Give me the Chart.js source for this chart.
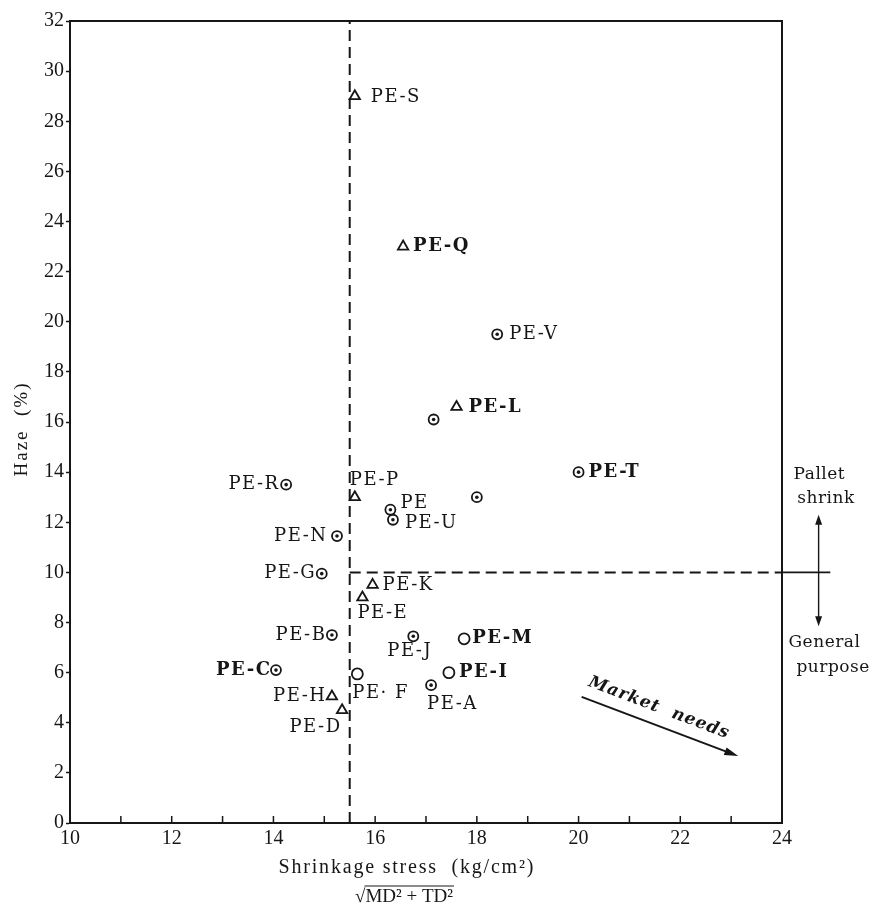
<!DOCTYPE html>
<html>
<head>
<meta charset="utf-8">
<script src="https://cdn.jsdelivr.net/npm/chart.js@4.4.1/dist/chart.umd.min.js"></script>
<style>
    html, body { margin: 0; padding: 0; background: #fff; }
    canvas { display: block; }
</style>
</head>
<body>
<canvas id="grafico-haze" width="876" height="911"></canvas>
<script>
'use strict';

// Muestras con triángulo
const nombresTriangulo = ['PE-S', 'PE-Q', 'PE-L', 'PE-P', 'PE-K', 'PE-E', 'PE-H', 'PE-D'];
const tensionTriangulo = [15.6, 16.55, 17.6, 15.6, 15.95, 15.75, 15.15, 15.35];
const hazeTriangulo = [29.0, 23.0, 16.6, 13.0, 9.5, 9.0, 5.05, 4.5];

// Muestras con círculo y punto central
const nombresCirculoPunto = ['PE-V', '', 'PE-T', '', 'PE-R', 'PE', 'PE-U', 'PE-N', 'PE-G', 'PE-B', 'PE-J', 'PE-C', 'PE-A'];
const tensionCirculoPunto = [18.4, 17.15, 20.0, 18.0, 14.25, 16.3, 16.35, 15.25, 14.95, 15.15, 16.75, 14.05, 17.1];
const hazeCirculoPunto = [19.5, 16.1, 14.0, 13.0, 13.5, 12.5, 12.1, 11.45, 9.95, 7.5, 7.45, 6.1, 5.5];

// Muestras con círculo vacío
const nombresCirculo = ['PE-M', 'PE· F', 'PE-I'];
const tensionCirculo = [17.75, 15.65, 17.45];
const hazeCirculo = [7.35, 5.95, 6.0];

// Límites de las zonas (tensión de contracción y haze)
const limiteTension = 15.5;
const limiteHaze = 10;

// Ejes
const ejeX = { min: 10, max: 24, paso: 1 };
const ejeY = { min: 0, max: 32, paso: 2 };

const TINTA = '#161616';
const SERIF = '"DejaVu Serif", "Liberation Serif", serif';
const SERIF_NUM = '"Liberation Serif", serif';

// Posición de cada etiqueta respecto a su punto: [dx, dy, alineación]
const posEtiquetas = {
    'PE-S': [16, 1, 'left'], 'PE-Q': [10, 0, 'left'], 'PE-L': [12, 0, 'left'],
    'PE-P': [-5, -17, 'left'], 'PE-K': [10, 0, 'left'], 'PE-E': [-5, 16, 'left'],
    'PE-H': [-7, 0, 'right'], 'PE-D': [-2, 17, 'right'],
    'PE-V': [12, 0, 'left'], 'PE-T': [10, 0, 'left'], 'PE-R': [-8, 0, 'right'],
    'PE': [10, -6, 'left'], 'PE-U': [12, 4, 'left'], 'PE-N': [-11, 0, 'right'],
    'PE-G': [-7, 0, 'right'], 'PE-B': [-7, 0, 'right'], 'PE-J': [-26, 15, 'left'],
    'PE-C': [-6, 0, 'right'], 'PE-A': [-4, 19, 'left'],
    'PE-M': [8, 0, 'left'], 'PE· F': [-5, 19, 'left'], 'PE-I': [10, 0, 'left']
};
const etiquetasNegrita = new Set(['PE-Q', 'PE-L', 'PE-T', 'PE-M', 'PE-I', 'PE-C']);

/**
 * Une dos listas de valores en puntos {x, y}.
 */
function puntos(xs, ys) {
    return xs.map((x, i) => ({ x: x, y: ys[i] }));
}

/**
 * Escribe un texto con espaciado entre letras, alineado a izquierda, centro o derecha.
 */
function texto(ctx, str, x, y, align, espacio) {
    ctx.letterSpacing = espacio + 'px';
    const w = ctx.measureText(str).width - espacio;
    const x0 = align === 'right' ? x - w : (align === 'center' ? x - w / 2 : x);
    ctx.textAlign = 'left';
    ctx.fillText(str, x0, y);
    ctx.letterSpacing = '0px';
}

function flecha(ctx, x1, y1, x2, y2, largo, ancho) {
    const a = Math.atan2(y2 - y1, x2 - x1);
    ctx.beginPath();
    ctx.moveTo(x2, y2);
    ctx.lineTo(x2 - largo * Math.cos(a) + ancho / 2 * Math.sin(a), y2 - largo * Math.sin(a) - ancho / 2 * Math.cos(a));
    ctx.lineTo(x2 - largo * Math.cos(a) - ancho / 2 * Math.sin(a), y2 - largo * Math.sin(a) + ancho / 2 * Math.cos(a));
    ctx.closePath();
    ctx.fill();
}

// Marco, marcas interiores del eje x, anotaciones y etiquetas
const anotaciones = {
    id: 'anotaciones',
    beforeDatasetsDraw(chart) {
        const { ctx, chartArea: ca, scales: { x } } = chart;
        ctx.save();
        ctx.strokeStyle = TINTA;
        ctx.lineWidth = 2;
        ctx.strokeRect(ca.left, ca.top, ca.right - ca.left, ca.bottom - ca.top);
        ctx.lineWidth = 1.5;
        for (let v = ejeX.min + ejeX.paso; v < ejeX.max; v += ejeX.paso) {
            const px = x.getPixelForValue(v);
            ctx.beginPath();
            ctx.moveTo(px, ca.bottom);
            ctx.lineTo(px, ca.bottom - 7);
            ctx.stroke();
        }
        ctx.restore();
    },
    afterDatasetsDraw(chart) {
        const { ctx, chartArea: ca, scales: { x, y } } = chart;
        ctx.save();
        ctx.fillStyle = TINTA;
        ctx.strokeStyle = TINTA;
        ctx.textBaseline = 'middle';

        // etiquetas de las muestras
        const grupos = [[2, nombresTriangulo], [3, nombresCirculoPunto], [5, nombresCirculo]];
        grupos.forEach(([indice, nombres]) => {
            const meta = chart.getDatasetMeta(indice);
            nombres.forEach((nombre, i) => {
                if (!nombre) return;
                const [dx, dy, align] = posEtiquetas[nombre];
                const p = meta.data[i];
                ctx.font = (etiquetasNegrita.has(nombre) ? 'bold ' : '') + '18px ' + SERIF;
                texto(ctx, nombre, p.x + dx, p.y + dy, align, 1.5);
            });
        });

        // continuación sólida de la línea de haze fuera del marco
        const y10 = y.getPixelForValue(limiteHaze);
        ctx.lineWidth = 1.6;
        ctx.beginPath();
        ctx.moveTo(ca.right, y10);
        ctx.lineTo(x.getPixelForValue(24.95), y10);
        ctx.stroke();

        // flecha doble entre las dos aplicaciones
        const xf = x.getPixelForValue(24.72);
        const yA = y.getPixelForValue(12.3);
        const yB = y.getPixelForValue(7.85);
        ctx.lineWidth = 1.4;
        ctx.beginPath();
        ctx.moveTo(xf, yA + 8);
        ctx.lineTo(xf, yB - 8);
        ctx.stroke();
        flecha(ctx, xf, yB, xf, yA, 10, 7);
        flecha(ctx, xf, yA, xf, yB, 10, 7);

        ctx.font = '17px ' + SERIF;
        texto(ctx, 'Pallet', x.getPixelForValue(24.73), y.getPixelForValue(13.9), 'center', 0.5);
        texto(ctx, 'shrink', x.getPixelForValue(24.86), y.getPixelForValue(12.95), 'center', 0.5);
        texto(ctx, 'General', x.getPixelForValue(24.83), y.getPixelForValue(7.2), 'center', 0.5);
        texto(ctx, 'purpose', x.getPixelForValue(25.0), y.getPixelForValue(6.2), 'center', 0.5);

        // flecha de necesidades del mercado
        const x1 = x.getPixelForValue(20.06), y1 = y.getPixelForValue(5.03);
        const x2 = x.getPixelForValue(23.14), y2 = y.getPixelForValue(2.67);
        ctx.lineWidth = 2;
        ctx.beginPath();
        ctx.moveTo(x1, y1);
        ctx.lineTo(x2 - 8, y2 - 3);
        ctx.stroke();
        flecha(ctx, x1, y1, x2, y2, 14, 8);
        const ang = Math.atan2(y2 - y1, x2 - x1);
        const mx = (x1 + x2) / 2, my = (y1 + y2) / 2;
        ctx.translate(mx - 8 * Math.cos(ang) + 17 * Math.sin(ang), my - 8 * Math.sin(ang) - 17 * Math.cos(ang));
        ctx.rotate(ang);
        ctx.font = 'italic bold 17px ' + SERIF;
        texto(ctx, 'Market  needs', 0, 0, 'center', 1);
        ctx.restore();

        // títulos de los ejes
        ctx.save();
        ctx.fillStyle = TINTA;
        ctx.strokeStyle = TINTA;
        ctx.textBaseline = 'middle';
        ctx.font = '20px ' + SERIF_NUM;
        texto(ctx, 'Shrinkage stress  (kg/cm²)', ca.left + 336, 868, 'center', 1.8);
        ctx.font = '19px ' + SERIF_NUM;
        const cuerpo = 'MD² + TD²';
        const wRaiz = ctx.measureText('√').width;
        const wCuerpo = ctx.measureText(cuerpo).width;
        const x0 = ca.left + 334 - (wRaiz + wCuerpo) / 2;
        ctx.fillText('√', x0, 897);
        ctx.fillText(cuerpo, x0 + wRaiz, 897);
        ctx.lineWidth = 1.2;
        ctx.beginPath();
        ctx.moveTo(x0 + wRaiz - 1, 886);
        ctx.lineTo(x0 + wRaiz + wCuerpo + 1, 886);
        ctx.stroke();

        ctx.translate(22, 430);
        ctx.rotate(-Math.PI / 2);
        texto(ctx, 'Haze  (%)', 0, 0, 'center', 2);
        ctx.restore();
    }
};

const lineaLimite = {
    type: 'line',
    order: 5,
    showLine: true,
    borderColor: TINTA,
    borderWidth: 2,
    borderDash: [11, 6],
    pointRadius: 0,
    fill: false
};

const marcador = {
    order: 2,
    borderColor: TINTA,
    backgroundColor: '#ffffff',
    borderWidth: 1.8
};

new Chart(document.getElementById('grafico-haze').getContext('2d'), {
    type: 'scatter',
    data: {
        datasets: [
            Object.assign({ data: [{ x: limiteTension, y: ejeY.min }, { x: limiteTension, y: ejeY.max }] }, lineaLimite),
            Object.assign({ data: [{ x: limiteTension, y: limiteHaze }, { x: ejeX.max, y: limiteHaze }] }, lineaLimite),
            Object.assign({ data: puntos(tensionTriangulo, hazeTriangulo), pointStyle: 'triangle', pointRadius: 6 }, marcador),
            Object.assign({ data: puntos(tensionCirculoPunto, hazeCirculoPunto), pointStyle: 'circle', pointRadius: 5 }, marcador),
            // punto central de los círculos, encima de ellos
            { data: puntos(tensionCirculoPunto, hazeCirculoPunto), order: 0, pointStyle: 'circle', pointRadius: 1.8, borderWidth: 0, backgroundColor: TINTA },
            Object.assign({ data: puntos(tensionCirculo, hazeCirculo), pointStyle: 'circle', pointRadius: 5.5 }, marcador)
        ]
    },
    options: {
        responsive: false,
        animation: false,
        layout: { padding: { top: 21, right: 94, left: 0, bottom: 0 } },
        plugins: { legend: { display: false }, tooltip: { enabled: false } },
        scales: {
            x: {
                type: 'linear',
                min: ejeX.min,
                max: ejeX.max,
                afterFit: scale => { scale.height = 88; },
                grid: { display: false, drawTicks: false },
                border: { display: true, color: TINTA, width: 2 },
                ticks: {
                    stepSize: ejeX.paso,
                    autoSkip: false,
                    maxRotation: 0,
                    padding: 4,
                    color: TINTA,
                    font: { family: SERIF_NUM, size: 20 },
                    callback: v => (v % 2 === 0 ? v : '')
                }
            },
            y: {
                type: 'linear',
                min: ejeY.min,
                max: ejeY.max,
                afterFit: scale => { scale.width = 70; },
                grid: { drawOnChartArea: false, drawTicks: true, tickLength: 4, tickColor: TINTA, tickWidth: 1.5 },
                border: { display: true, color: TINTA, width: 2 },
                ticks: {
                    stepSize: ejeY.paso,
                    padding: 2,
                    color: TINTA,
                    font: { family: SERIF_NUM, size: 20 }
                }
            }
        }
    },
    plugins: [anotaciones]
});
</script>
</body>
</html>
